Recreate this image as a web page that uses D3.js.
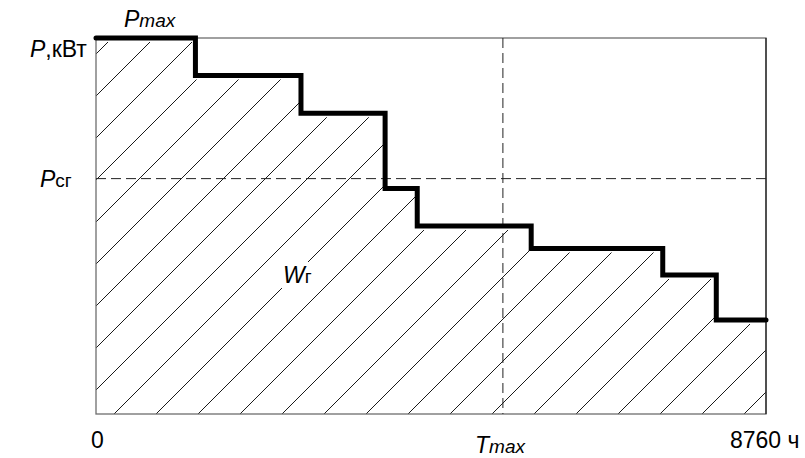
<!DOCTYPE html>
<html>
<head>
<meta charset="utf-8">
<script src="https://cdn.jsdelivr.net/npm/d3@7"></script>
<style>
  body { margin: 0; background: #fff; }
  text { font-family: "Liberation Sans", Arial, sans-serif; fill: #000; }
</style>
</head>
<body>
<div id="chart"></div>
<script>
// step boundaries (hours) and load (% of Pmax)
var stepStart = [0, 1300, 2680, 3780, 4200, 5690, 7410, 8110];
var stepLoad = [100, 90, 80, 60, 50, 44, 37, 25];
var yearHours = 8760;
var pAvg = 62.6;
var tMax = 5320;

var W = 805, H = 458;
var margin = { top: 38, right: 39, bottom: 44, left: 96 },
  width = W - margin.left - margin.right,
  height = H - margin.top - margin.bottom;

var svg = d3.select("#chart")
  .append("svg")
  .attr("width", W)
  .attr("height", H);

var g = svg.append("g")
  .attr("transform", "translate(" + margin.left + "," + margin.top + ")");

var x = d3.scaleLinear().domain([0, yearHours]).range([0, width]);
var y = d3.scaleLinear().domain([0, 100]).range([height, 0]);

var pts = stepStart.map(function (t, i) { return { t: t, p: stepLoad[i] }; });
pts.push({ t: yearHours, p: stepLoad[stepLoad.length - 1] });

// clip for hatching: area under the curve, a bit below the thick line
var clipArea = d3.area()
  .curve(d3.curveStepAfter)
  .x(function (d) { return x(d.t); })
  .y0(height)
  .y1(function (d) { return y(d.p) + 4; });

g.append("clipPath").attr("id", "under")
  .append("path")
  .attr("d", clipArea(pts));

// hatch lines at 45 degrees
var gap = 42;
var hatch = d3.range(54 - margin.top - 3 * gap, width + height + gap, gap);
g.append("g")
  .attr("clip-path", "url(#under)")
  .selectAll("line")
  .data(hatch)
  .enter()
  .append("line")
  .attr("x1", 0)
  .attr("y1", function (c) { return c; })
  .attr("x2", function (c) { return c + 10; })
  .attr("y2", -10)
  .attr("stroke", "#000")
  .attr("stroke-width", 0.9);

// frame
g.append("rect")
  .attr("x", 0).attr("y", 0)
  .attr("width", width).attr("height", height)
  .attr("fill", "none")
  .attr("stroke", "#6e6e6e")
  .attr("stroke-width", 1.3);
g.append("line")
  .attr("x1", width).attr("x2", width)
  .attr("y1", 0).attr("y2", height)
  .attr("stroke", "#000").attr("stroke-width", 1);

// dashed guides
g.append("line")
  .attr("x1", 0).attr("x2", width)
  .attr("y1", y(pAvg)).attr("y2", y(pAvg))
  .attr("stroke", "#222").attr("stroke-width", 1)
  .attr("stroke-dasharray", "10,5");
g.append("line")
  .attr("x1", x(tMax)).attr("x2", x(tMax))
  .attr("y1", 0).attr("y2", height)
  .attr("stroke", "#222").attr("stroke-width", 1)
  .attr("stroke-dasharray", "10,5");

// load curve
var line = d3.line()
  .curve(d3.curveStepAfter)
  .x(function (d) { return x(d.t); })
  .y(function (d) { return y(d.p); });

g.append("path")
  .attr("d", line(pts))
  .attr("fill", "none")
  .attr("stroke", "#000")
  .attr("stroke-width", 5)
  .attr("stroke-linecap", "round")
  .attr("stroke-linejoin", "miter");

// W label with a clear patch behind it
g.append("rect")
  .attr("x", 184).attr("y", 224)
  .attr("width", 36).attr("height", 26)
  .attr("fill", "#fff");

function label(parent, px, py, main, sub, subItalic, rest) {
  var t = parent.append("text").attr("x", px).attr("y", py).style("font-size", "23px");
  t.append("tspan").style("font-style", "italic").text(main);
  if (sub) t.append("tspan").style("font-size", "19px")
    .style("font-style", subItalic ? "italic" : "normal").text(sub);
  if (rest) t.append("tspan").text(rest);
  return t;
}

label(svg, 124, 27, "P", "max", true);
label(svg, 30, 57, "P", null, false, ",кВт");
label(svg, 40, 187, "P", "сг", false);
label(g, 187, 245, "W", "г", false);
label(svg, 475, 453, "T", "max", true);

svg.append("text").attr("x", 91).attr("y", 448).style("font-size", "23px").text("0");
svg.append("text").attr("x", 730).attr("y", 448).style("font-size", "23px").text("8760 ч");
</script>
</body>
</html>
